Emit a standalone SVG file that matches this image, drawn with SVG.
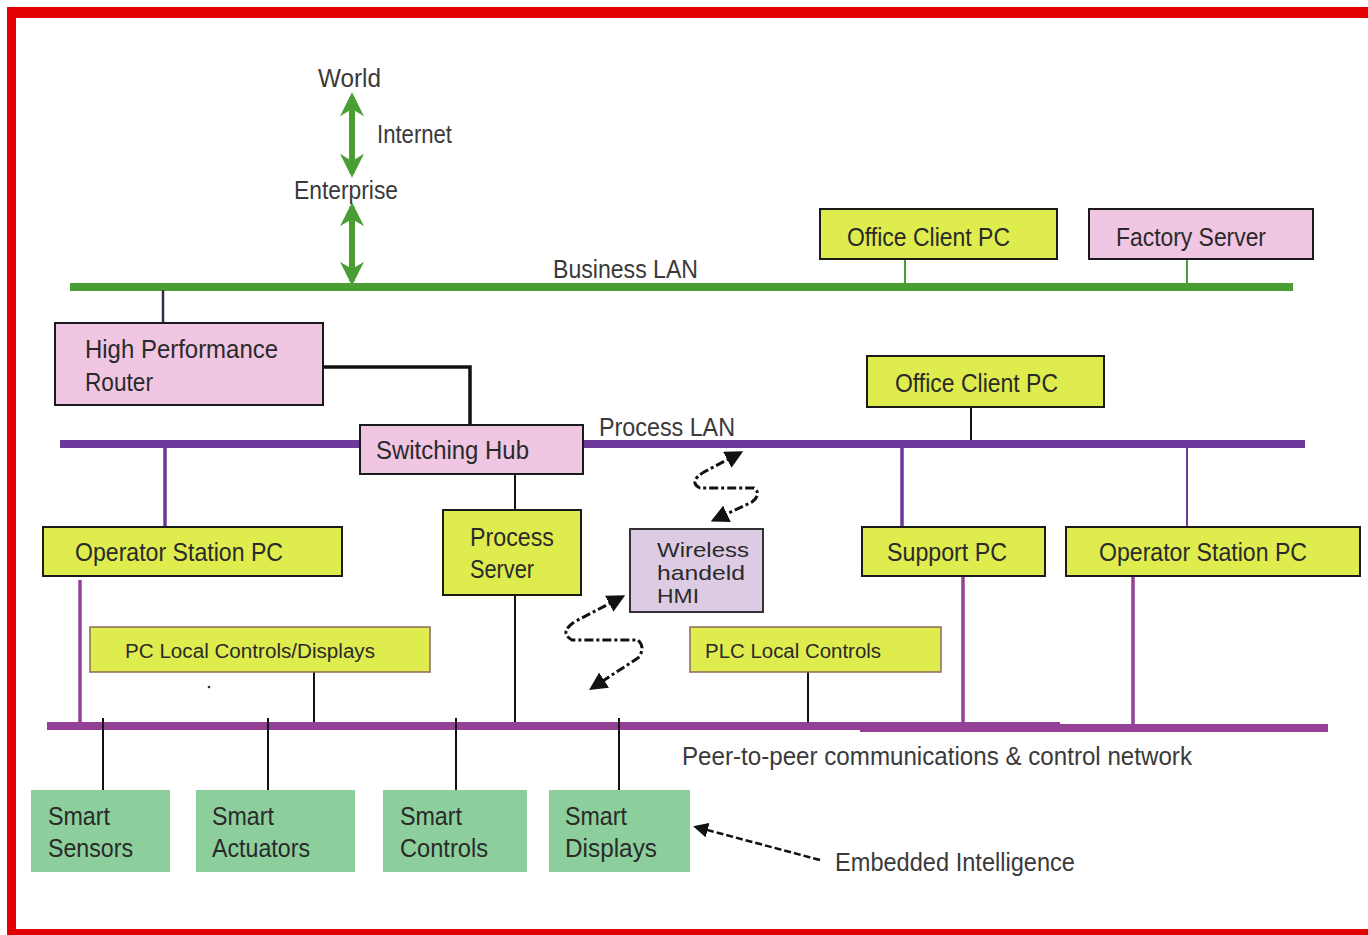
<svg xmlns="http://www.w3.org/2000/svg" width="1368" height="935" viewBox="0 0 1368 935">
<defs>
<style>
text{font-family:"Liberation Sans",Arial,sans-serif;font-size:25px;fill:#2a2a2a}
.lbl{fill:#3a3a3a}
.sm{font-size:20px}
.hmi{font-size:21px}
.yel{fill:#dfec4e;stroke:#1a1a1a;stroke-width:2}
.yel2{fill:#dfec4e;stroke:#8a6a5a;stroke-width:1.5}
.pink{fill:#f0c6e2;stroke:#1a1a1a;stroke-width:2}
.lav{fill:#dccbe3;stroke:#333;stroke-width:2}
.grn{fill:#8ccf9c}
.blan{stroke:#4a9e34;stroke-width:8;fill:none}
.plan{stroke:#6b3a9b;stroke-width:8;fill:none}
.peer{stroke:#934196;stroke-width:8;fill:none}
.thin{stroke:#111;stroke-width:2;fill:none}
.gthin{stroke:#4a9e34;stroke-width:2;fill:none}
.pv{stroke:#6b3a9b;stroke-width:3.5;fill:none}
.pvt{stroke:#6b3a9b;stroke-width:2;fill:none}
.mv{stroke:#934196;stroke-width:3.5;fill:none}
.garrow{stroke:#4a9e34;stroke-width:6;fill:none;marker-start:url(#ga);marker-end:url(#ga)}
.wire{stroke:#111;stroke-width:3;fill:none;stroke-dasharray:9 3 3 3}
</style>
<marker id="ga" viewBox="0 0 10 10" refX="8" refY="5" markerWidth="4.5" markerHeight="4" orient="auto-start-reverse" markerUnits="strokeWidth">
<path d="M0,0 L10,5 L0,10 L3,5 Z" fill="#4a9e34"/>
</marker>
<marker id="ba" viewBox="0 0 10 10" refX="8" refY="5" markerWidth="6" markerHeight="6" orient="auto-start-reverse" markerUnits="strokeWidth">
<path d="M0,0 L10,5 L0,10 Z" fill="#111"/>
</marker>
</defs>
<rect x="0" y="0" width="1368" height="935" fill="#fff"/>
<rect x="7" y="7" width="1361" height="11" fill="#e30000"/>
<rect x="7" y="7" width="9" height="928" fill="#e30000"/>
<rect x="7" y="929" width="1361" height="6" fill="#e30000"/>

<g id="connectors">
<line class="blan" x1="70" y1="287" x2="1293" y2="287"/>
<line class="plan" x1="60" y1="444" x2="1305" y2="444"/>
<line class="peer" x1="47" y1="726" x2="1060" y2="726"/>
<line class="peer" x1="860" y1="728" x2="1328" y2="728"/>
<path class="garrow" d="M352,97 L352,173"/>
<path class="garrow" d="M352,207 L352,281"/>
<line class="gthin" x1="905" y1="259" x2="905" y2="283"/>
<line class="gthin" x1="1187" y1="259" x2="1187" y2="283"/>
<line x1="163" y1="290" x2="163" y2="323" stroke="#3a2a4a" stroke-width="2.5"/>
<path d="M323,367 L470,367 L470,425" stroke="#111" stroke-width="3.5" fill="none"/>
<line class="pv" x1="165" y1="448" x2="165" y2="527"/>
<line class="thin" x1="515" y1="474" x2="515" y2="510"/>
<line class="thin" x1="515" y1="595" x2="515" y2="722"/>
<line class="thin" x1="971" y1="407" x2="971" y2="440"/>
<line class="pv" x1="902" y1="448" x2="902" y2="527"/>
<line class="pvt" x1="1187" y1="448" x2="1187" y2="527"/>
<line class="mv" x1="80" y1="580" x2="80" y2="722"/>
<line class="mv" x1="963" y1="576" x2="963" y2="722"/>
<line class="mv" x1="1133" y1="576" x2="1133" y2="724"/>
<line class="thin" x1="314" y1="672" x2="314" y2="722"/>
<line class="thin" x1="808" y1="672" x2="808" y2="722"/>
<line class="thin" x1="103" y1="718" x2="103" y2="790"/>
<line class="thin" x1="268" y1="718" x2="268" y2="790"/>
<line class="thin" x1="456" y1="718" x2="456" y2="790"/>
<line class="thin" x1="619" y1="718" x2="619" y2="790"/>
<path class="wire" marker-start="url(#ba)" marker-end="url(#ba)" d="M740,453 L704,472 Q688,482 700,488 L754,488 Q762,494 752,502 L714,520"/>
<path class="wire" marker-start="url(#ba)" marker-end="url(#ba)" d="M622,597 L576,621 Q558,632 572,640 L638,640 Q646,648 638,658 L592,688"/>
<path d="M820,860 L696,827" stroke="#111" stroke-width="2.5" stroke-dasharray="7 3" fill="none" marker-end="url(#ba)"/>
<circle cx="209" cy="687" r="1.3" fill="#333"/>
</g>

<g id="labels">
<text class="lbl" x="318" y="87" textLength="63" lengthAdjust="spacingAndGlyphs">World</text>
<text class="lbl" x="377" y="143" textLength="75" lengthAdjust="spacingAndGlyphs">Internet</text>
<text class="lbl" x="294" y="199" textLength="104" lengthAdjust="spacingAndGlyphs">Enterprise</text>
<text class="lbl" x="553" y="278" textLength="145" lengthAdjust="spacingAndGlyphs">Business LAN</text>
<text class="lbl" x="599" y="436" textLength="136" lengthAdjust="spacingAndGlyphs">Process LAN</text>
<text class="lbl" x="682" y="765" textLength="510" lengthAdjust="spacingAndGlyphs">Peer-to-peer communications &amp; control network</text>
<text class="lbl" x="835" y="871" textLength="240" lengthAdjust="spacingAndGlyphs">Embedded Intelligence</text>
</g>

<g id="office-client-pc-1">
<rect class="yel" x="820" y="209" width="237" height="50"/>
<text x="847" y="246" textLength="163" lengthAdjust="spacingAndGlyphs">Office Client PC</text>
</g>
<g id="factory-server">
<rect class="pink" x="1089" y="209" width="224" height="50"/>
<text x="1116" y="246" textLength="150" lengthAdjust="spacingAndGlyphs">Factory Server</text>
</g>
<g id="router">
<rect class="pink" x="55" y="323" width="268" height="82"/>
<text x="85" y="358" textLength="193" lengthAdjust="spacingAndGlyphs">High Performance</text>
<text x="85" y="391" textLength="68" lengthAdjust="spacingAndGlyphs">Router</text>
</g>
<g id="switching-hub">
<rect class="pink" x="360" y="425" width="223" height="49"/>
<text x="376" y="459" textLength="153" lengthAdjust="spacingAndGlyphs">Switching Hub</text>
</g>
<g id="office-client-pc-2">
<rect class="yel" x="867" y="356" width="237" height="51"/>
<text x="895" y="392" textLength="163" lengthAdjust="spacingAndGlyphs">Office Client PC</text>
</g>
<g id="operator-station-left">
<rect class="yel" x="43" y="527" width="299" height="49"/>
<text x="75" y="561" textLength="208" lengthAdjust="spacingAndGlyphs">Operator Station PC</text>
</g>
<g id="process-server">
<rect class="yel" x="443" y="510" width="138" height="85"/>
<text x="470" y="546" textLength="84" lengthAdjust="spacingAndGlyphs">Process</text>
<text x="470" y="578" textLength="64" lengthAdjust="spacingAndGlyphs">Server</text>
</g>
<g id="wireless-hmi">
<rect class="lav" x="630" y="529" width="133" height="83"/>
<text class="hmi" x="657" y="557" textLength="92" lengthAdjust="spacingAndGlyphs">Wireless</text>
<text class="hmi" x="657" y="580" textLength="88" lengthAdjust="spacingAndGlyphs">handeld</text>
<text class="hmi" x="657" y="603" textLength="42" lengthAdjust="spacingAndGlyphs">HMI</text>
</g>
<g id="support-pc">
<rect class="yel" x="862" y="527" width="183" height="49"/>
<text x="887" y="561" textLength="120" lengthAdjust="spacingAndGlyphs">Support PC</text>
</g>
<g id="operator-station-right">
<rect class="yel" x="1066" y="527" width="294" height="49"/>
<text x="1099" y="561" textLength="208" lengthAdjust="spacingAndGlyphs">Operator Station PC</text>
</g>
<g id="pc-local">
<rect class="yel2" x="90" y="627" width="340" height="45"/>
<text class="sm" x="125" y="658" textLength="250" lengthAdjust="spacingAndGlyphs">PC Local Controls/Displays</text>
</g>
<g id="plc-local">
<rect class="yel2" x="690" y="627" width="251" height="45"/>
<text class="sm" x="705" y="658" textLength="176" lengthAdjust="spacingAndGlyphs">PLC Local Controls</text>
</g>
<g id="smart-sensors">
<rect class="grn" x="31" y="790" width="139" height="82"/>
<text x="48" y="825" textLength="62" lengthAdjust="spacingAndGlyphs">Smart</text>
<text x="48" y="857" textLength="85" lengthAdjust="spacingAndGlyphs">Sensors</text>
</g>
<g id="smart-actuators">
<rect class="grn" x="196" y="790" width="159" height="82"/>
<text x="212" y="825" textLength="62" lengthAdjust="spacingAndGlyphs">Smart</text>
<text x="212" y="857" textLength="98" lengthAdjust="spacingAndGlyphs">Actuators</text>
</g>
<g id="smart-controls">
<rect class="grn" x="383" y="790" width="144" height="82"/>
<text x="400" y="825" textLength="62" lengthAdjust="spacingAndGlyphs">Smart</text>
<text x="400" y="857" textLength="88" lengthAdjust="spacingAndGlyphs">Controls</text>
</g>
<g id="smart-displays">
<rect class="grn" x="549" y="790" width="141" height="82"/>
<text x="565" y="825" textLength="62" lengthAdjust="spacingAndGlyphs">Smart</text>
<text x="565" y="857" textLength="92" lengthAdjust="spacingAndGlyphs">Displays</text>
</g>
</svg>
